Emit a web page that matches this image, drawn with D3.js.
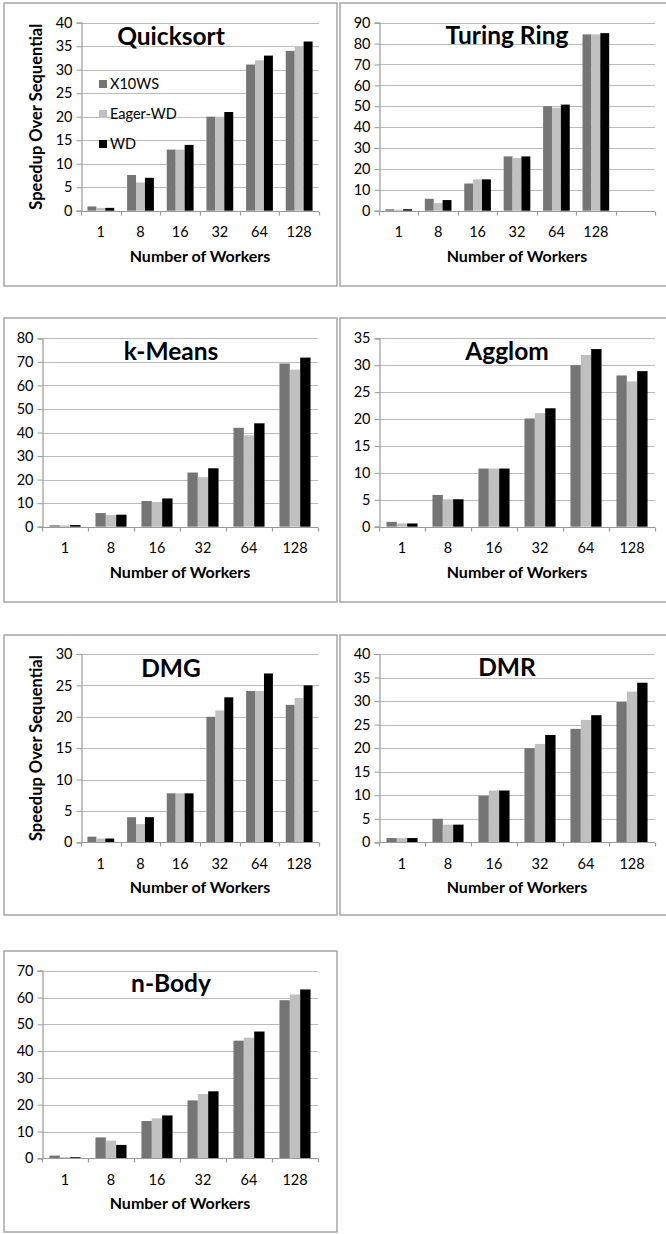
<!DOCTYPE html>
<html>
<head>
<meta charset="utf-8">
<script src="https://cdn.jsdelivr.net/npm/d3@7"></script>
<style>
  html, body { margin: 0; padding: 0; background: #fff; }
  svg { display: block; }
  text { font-family: Lato, "Open Sans", "DejaVu Sans", sans-serif; }
</style>
</head>
<body>
<svg id="chart" width="666" height="1234"></svg>
<script>
// ---------- DATA ----------
const categories = ["1", "8", "16", "32", "64", "128"];
const seriesNames = ["X10WS", "Eager-WD", "WD"];

const quicksort_X10WS   = [0.9, 7.6, 13.0, 20.0, 31.1, 34.0];
const quicksort_EagerWD = [0.6, 6.0, 13.0, 20.0, 32.0, 35.0];
const quicksort_WD      = [0.6, 7.0, 14.0, 21.0, 33.0, 36.0];

const turing_X10WS   = [0.7, 5.7, 13.0, 26.0, 50.0, 84.4];
const turing_EagerWD = [0.5, 3.7, 15.0, 25.2, 49.3, 84.4];
const turing_WD      = [0.7, 5.1, 15.0, 26.0, 50.8, 85.0];

const kmeans_X10WS   = [0.6, 5.8, 10.9, 23.0, 42.0, 69.3];
const kmeans_EagerWD = [0.6, 5.0, 10.5, 21.0, 38.8, 66.7];
const kmeans_WD      = [0.7, 5.1, 12.0, 24.8, 43.9, 71.8];

const agglom_X10WS   = [0.9, 5.9, 10.8, 20.1, 30.0, 28.1];
const agglom_EagerWD = [0.6, 5.1, 10.8, 21.1, 31.9, 27.0];
const agglom_WD      = [0.6, 5.1, 10.8, 22.0, 33.0, 28.9];

const dmg_X10WS   = [0.9, 4.0, 7.8, 20.0, 24.1, 21.9];
const dmg_EagerWD = [0.6, 2.9, 7.8, 21.0, 24.1, 23.0];
const dmg_WD      = [0.6, 4.0, 7.8, 23.1, 26.9, 25.0];

const dmr_X10WS   = [0.9, 5.0, 9.9, 20.0, 24.1, 29.8];
const dmr_EagerWD = [0.9, 3.75, 11.0, 20.9, 26.0, 32.0];
const dmr_WD      = [0.9, 3.75, 11.0, 22.8, 27.0, 33.9];

const nbody_X10WS   = [1.0, 7.8, 13.9, 21.6, 43.9, 59.0];
const nbody_EagerWD = [0.4, 6.6, 14.9, 24.0, 45.0, 61.1];
const nbody_WD      = [0.4, 5.0, 16.0, 25.0, 47.3, 63.0];

const titles = ["Quicksort", "Turing Ring", "k-Means", "Agglom", "DMG", "DMR", "n-Body"];
const yMaxes = [40, 90, 80, 35, 30, 40, 70];
const yStepsList = [5, 10, 10, 5, 5, 5, 10];
const extraBands = [0, 1, 0, 0, 0, 0, 0];   // Turing Ring has one empty trailing slot
const xAxisTitle = "Number of Workers";
const yAxisTitle = "Speedup Over Sequential";

const seriesByChart = [
  [quicksort_X10WS, quicksort_EagerWD, quicksort_WD],
  [turing_X10WS, turing_EagerWD, turing_WD],
  [kmeans_X10WS, kmeans_EagerWD, kmeans_WD],
  [agglom_X10WS, agglom_EagerWD, agglom_WD],
  [dmg_X10WS, dmg_EagerWD, dmg_WD],
  [dmr_X10WS, dmr_EagerWD, dmr_WD],
  [nbody_X10WS, nbody_EagerWD, nbody_WD]
];

// ---------- LAYOUT / STYLE ----------
const colors = ["#757575", "#c0c0c0", "#000000"];
const layout = [
  { bx0: 4,   bx1: 337, by0: 3,   by1: 286, px0: 81,  px1: 319, py0: 22.7,  py1: 210.7,  ylab: true,  tx: 171, ty: 45,  legend: true },
  { bx0: 340, bx1: 690, by0: 3,   by1: 286, px0: 379, px1: 655, py0: 22.7,  py1: 210.7,  ylab: false, tx: 507, ty: 44 },
  { bx0: 4,   bx1: 337, by0: 318, by1: 602, px0: 42,  px1: 318, py0: 338.3, py1: 526.7,  ylab: false, tx: 171, ty: 360 },
  { bx0: 340, bx1: 690, by0: 318, by1: 602, px0: 379, px1: 655, py0: 338.3, py1: 526.7,  ylab: false, tx: 507, ty: 360 },
  { bx0: 4,   bx1: 337, by0: 635, by1: 915, px0: 81,  px1: 319, py0: 654,   py1: 842.3,  ylab: true,  tx: 171, ty: 677 },
  { bx0: 340, bx1: 690, by0: 635, by1: 915, px0: 379, px1: 655, py0: 654,   py1: 842.3,  ylab: false, tx: 507, ty: 676 },
  { bx0: 4,   bx1: 337, by0: 951, by1: 1232, px0: 42, px1: 318, py0: 970.7, py1: 1158.3, ylab: false, tx: 171, ty: 992 }
];

const svg = d3.select("#chart");
const gridColor = "#bcbcbc";
const axisColor = "#9a9a9a";

layout.forEach((L, i) => {
  const g = svg.append("g");
  // panel border
  g.append("rect")
    .attr("x", L.bx0).attr("y", L.by0)
    .attr("width", L.bx1 - L.bx0).attr("height", L.by1 - L.by0)
    .attr("fill", "#fff").attr("stroke", "#a6a6a6").attr("stroke-width", 1.5);

  const cats = categories.concat(d3.range(extraBands[i]).map(k => "__blank" + k));
  const x = d3.scaleBand().domain(cats).range([L.px0, L.px1]).paddingInner(0).paddingOuter(0);
  const xs = d3.scaleBand().domain(seriesNames).range([0, x.bandwidth()]).paddingOuter(0.72).paddingInner(0);
  const y = d3.scaleLinear().domain([0, yMaxes[i]]).range([L.py1, L.py0]);
  const ticks = d3.range(0, yMaxes[i] + 0.001, yStepsList[i]);

  // gridlines
  g.append("g").selectAll("line").data(ticks.filter(t => t > 0)).join("line")
    .attr("x1", L.px0).attr("x2", L.px1)
    .attr("y1", d => Math.round(y(d)) + 0.5).attr("y2", d => Math.round(y(d)) + 0.5)
    .attr("stroke", gridColor).attr("stroke-width", 1.2);

  // bars
  const series = seriesByChart[i];
  seriesNames.forEach((s, si) => {
    g.append("g").selectAll("rect").data(series[si]).join("rect")
      .attr("x", (d, ci) => x(categories[ci]) + xs(s))
      .attr("width", xs.bandwidth())
      .attr("y", d => y(d))
      .attr("height", d => y(0) - y(d))
      .attr("fill", colors[si]);
  });

  // y axis
  const yAxis = d3.axisLeft(y).tickValues(ticks).tickSize(5).tickPadding(4).tickFormat(d3.format("d"));
  const ya = g.append("g").attr("transform", `translate(${Math.round(L.px0) + 0.5},0)`).call(yAxis);
  ya.select(".domain").attr("stroke", axisColor).attr("stroke-width", 1.2);
  ya.selectAll(".tick line").attr("stroke", axisColor);
  ya.selectAll(".tick text").attr("font-size", 14.5).attr("fill", "#000").attr("font-family", "Lato, sans-serif");

  // x axis: line + boundary ticks
  const yZero = Math.round(y(0)) + 0.5;
  g.append("line").attr("x1", L.px0).attr("x2", L.px1).attr("y1", yZero).attr("y2", yZero)
    .attr("stroke", axisColor).attr("stroke-width", 1.2);
  const bounds = cats.map(c => x(c)).concat([L.px1]);
  g.append("g").selectAll("line").data(bounds).join("line")
    .attr("x1", d => Math.round(d) + 0.5).attr("x2", d => Math.round(d) + 0.5)
    .attr("y1", yZero).attr("y2", yZero + 4)
    .attr("stroke", axisColor).attr("stroke-width", 1.2);
  g.append("g").selectAll("text").data(categories).join("text")
    .attr("x", d => x(d) + x.bandwidth() / 2)
    .attr("y", L.py1 + 26.5)
    .attr("text-anchor", "middle").attr("font-size", 14.5).attr("fill", "#000")
    .text(d => d);

  // x title
  g.append("text")
    .attr("x", (L.px0 + L.px1) / 2)
    .attr("y", L.py1 + 51)
    .attr("text-anchor", "middle").attr("font-size", 16).attr("font-weight", "bold").attr("fill", "#000")
    .text(xAxisTitle);

  // y title
  if (L.ylab) {
    g.append("text")
      .attr("transform", `translate(${L.bx0 + 38},${(L.py0 + L.py1) / 2}) rotate(-90)`)
      .attr("text-anchor", "middle").attr("font-size", 16.5).attr("font-weight", "bold").attr("fill", "#000")
      .text(yAxisTitle);
  }

  // chart title
  g.append("text")
    .attr("x", L.tx).attr("y", L.ty)
    .attr("text-anchor", "middle").attr("font-size", 24.5).attr("font-weight", "bold").attr("fill", "#000")
    .text(titles[i]);

  // legend
  if (L.legend) {
    const lg = g.append("g").attr("transform", `translate(99,80)`);
    seriesNames.forEach((s, si) => {
      const row = lg.append("g").attr("transform", `translate(0,${si * 30})`);
      row.append("rect").attr("width", 8).attr("height", 8).attr("fill", colors[si]);
      row.append("text").attr("x", 11).attr("y", 9).attr("font-size", 14.5).attr("fill", "#000").text(s);
    });
  }
});
</script>
</body>
</html>
